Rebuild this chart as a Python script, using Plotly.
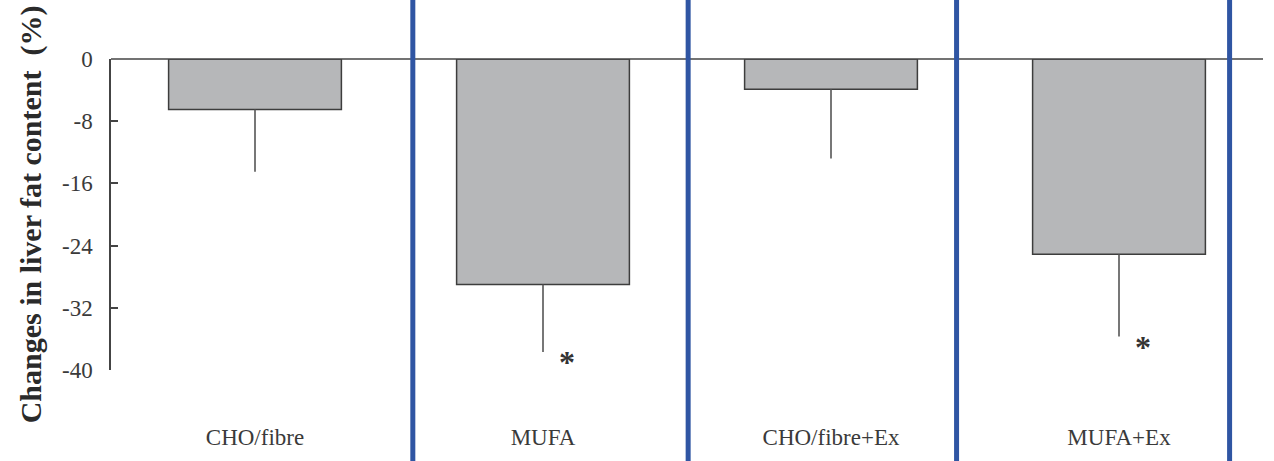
import plotly.graph_objects as go

# Diet groups and mean change in liver fat (%) with SD
groups = ["CHO/fibre", "MUFA", "CHO/fibre+Ex", "MUFA+Ex"]
mean_change = [-6.5, -29.0, -3.9, -25.1]
sd_change = [8.0, 8.7, 8.9, 10.6]
significant = [False, True, False, True]

y_ticks = [0, -8, -16, -24, -32, -40]
y_tick_text = ["0", "-8", "-16", "-24", "-32", "-40"]

serif = "Liberation Serif, Times New Roman, serif"

fig = go.Figure()
fig.add_trace(go.Bar(
    x=groups,
    y=mean_change,
    width=0.6,
    marker=dict(color="#b6b7b9", line=dict(color="#3d3d3d", width=1.5)),
    error_y=dict(type="data", symmetric=False,
                 array=[0] * len(sd_change), arrayminus=sd_change,
                 color="#555555", thickness=1.6, width=0),
    showlegend=False,
))

# Significance markers beside the lower error whisker
for g, m, s, sig in zip(groups, mean_change, sd_change, significant):
    if sig:
        fig.add_annotation(x=g, y=m - s, text="<b>*</b>", showarrow=False,
                           xshift=24, yshift=-10, yanchor="middle",
                           font=dict(family=serif, size=32, color="#333333"))

# Zero reference line across the top of the plot
fig.add_shape(type="line", xref="paper", yref="paper", x0=0, x1=1, y0=1, y1=1,
              line=dict(color="#444444", width=1.5))

# Blue panel separators
for xp in [0.262, 0.501, 0.734, 0.971]:
    fig.add_shape(type="line", xref="paper", yref="paper", x0=xp, x1=xp,
                  y0=-0.3, y1=1.3, line=dict(color="#2f55a3", width=5))

fig.update_layout(
    width=1274, height=461,
    margin=dict(l=111, r=11, t=59, b=86),
    plot_bgcolor="white", paper_bgcolor="white",
    font=dict(family=serif, color="#333333"),
    xaxis=dict(range=[-0.5, 3.5], showline=False, showgrid=False, ticks="",
               tickfont=dict(family=serif, size=23, color="#3a3a3a"),
               ticklabelstandoff=51),
    yaxis=dict(range=[-40, 0], tickvals=y_ticks, ticktext=y_tick_text,
               showgrid=False, zeroline=False,
               showline=True, linecolor="#444444", linewidth=1.5,
               ticks="inside", ticklen=7, tickcolor="#444444", tickwidth=1.5,
               tickfont=dict(family=serif, size=23, color="#3a3a3a"),
               ticklabelstandoff=12,
               title=dict(text="<b>Changes in liver fat content  (%)</b>",
                          font=dict(family=serif, size=30, color="#2a2a2a"),
                          standoff=11)),
)

fig.write_html("out.html")
